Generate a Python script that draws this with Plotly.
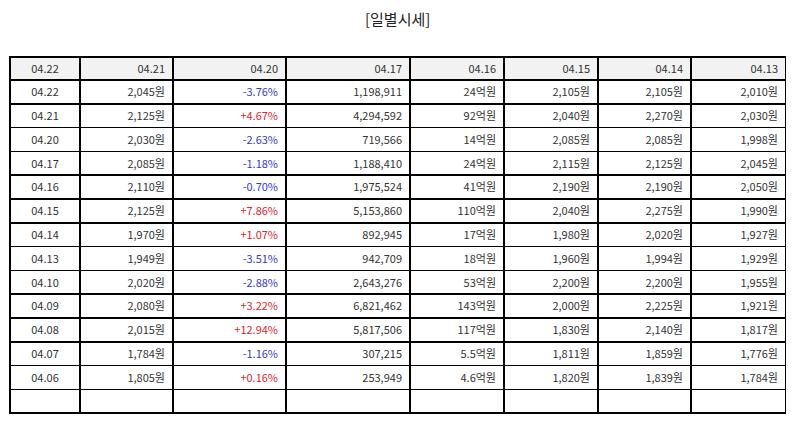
import plotly.graph_objects as go

# header row (dates)
header_labels = ["04.22", "04.21", "04.20", "04.17", "04.16", "04.15", "04.14", "04.13"]

dates = ["04.22", "04.21", "04.20", "04.17", "04.16", "04.15", "04.14",
         "04.13", "04.10", "04.09", "04.08", "04.07", "04.06"]
close_price = [2045, 2125, 2030, 2085, 2110, 2125, 1970, 1949, 2020, 2080, 2015, 1784, 1805]
change_pct = [-3.76, 4.67, -2.63, -1.18, -0.70, 7.86, 1.07, -3.51, -2.88, 3.22, 12.94, -1.16, 0.16]
volume = [1198911, 4294592, 719566, 1188410, 1975524, 5153860, 892945,
          942709, 2643276, 6821462, 5817506, 307215, 253949]
trade_value = ["24", "92", "14", "24", "41", "110", "17", "18", "53", "143", "117", "5.5", "4.6"]
open_price = [2105, 2040, 2085, 2115, 2190, 2040, 1980, 1960, 2200, 2000, 1830, 1811, 1820]
high_price = [2105, 2270, 2085, 2125, 2190, 2275, 2020, 1994, 2200, 2225, 2140, 1859, 1839]
low_price = [2010, 2030, 1998, 2045, 2050, 1990, 1927, 1929, 1955, 1921, 1817, 1776, 1784]

RED = "#e0262e"
BLUE = "#3a3acc"
TEXT = "#333333"

# the page body adds an 8px margin, so positions are shifted back by that
W, H, OFF = 794, 425, 8


def won(values):
    return [f"{v:,}원" for v in values]


columns = [
    dates,
    won(close_price),
    [f"{v:+.2f}%" for v in change_pct],
    [f"{v:,}" for v in volume],
    [f"{v}억원" for v in trade_value],
    won(open_price),
    won(high_price),
    won(low_price),
]
# trailing empty row
columns = [col + [""] for col in columns]

pct_colors = [RED if v > 0 else BLUE for v in change_pct] + [TEXT]
n_rows = len(dates) + 1
font_colors = [[TEXT] * n_rows for _ in columns]
font_colors[2] = pct_colors

col_widths = [70, 93, 113, 124, 94, 94, 93, 95]
aligns = ["center"] + ["right"] * 7

fig = go.Figure(go.Table(
    domain=dict(x=[(10 - OFF) / W, (786 - OFF) / W], y=[0, 1]),
    columnwidth=col_widths,
    header=dict(
        values=header_labels,
        fill_color="#f2f2f2",
        line=dict(color="black", width=1.5),
        align=aligns,
        font=dict(family="Noto Sans CJK KR", size=11, color=TEXT),
        height=23,
    ),
    cells=dict(
        values=columns,
        fill_color="white",
        line=dict(color="black", width=1.5),
        align=aligns,
        font=dict(family="Noto Sans CJK KR", size=11, color=font_colors),
        height=23.8,
    ),
))

fig.add_annotation(
    text="[일별시세]",
    xref="paper", yref="paper",
    x=(397 - OFF) / W, y=1,
    xanchor="center", yanchor="middle",
    yshift=57 - 18,
    showarrow=False,
    font=dict(family="Noto Sans CJK KR", size=15, color="#222222"),
)

fig.update_layout(
    width=W,
    height=H,
    margin=dict(l=0, r=0, t=57 - OFF, b=0),
    paper_bgcolor="white",
)

fig.write_html("out.html")
